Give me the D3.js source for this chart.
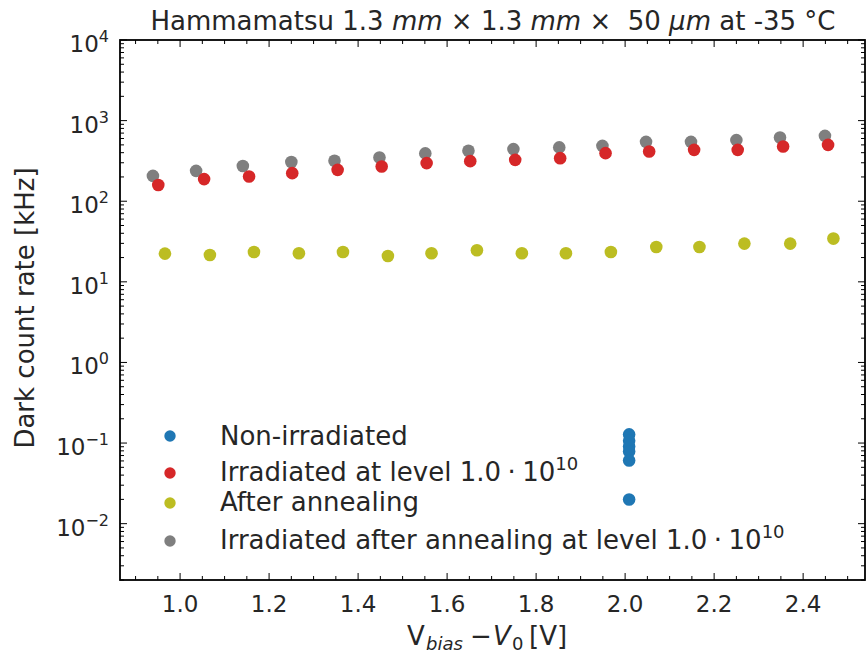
<!DOCTYPE html>
<html><head><meta charset="utf-8">
<script src="https://cdn.jsdelivr.net/npm/d3@7"></script>
<style>body{margin:0;background:#fff}text{font-family:"DejaVu Sans",sans-serif;fill:#262626;white-space:pre}</style>
</head><body><svg id="c" width="867" height="655"></svg>
<script>
const grayX = [0.939,1.036,1.141,1.250,1.347,1.448,1.551,1.648,1.749,1.852,1.949,2.047,2.148,2.250,2.348,2.449];
const grayY = [206,238,274,307,317,349,392,422,443,465,486,545,545,573,618,647];
const redX = [0.951,1.054,1.155,1.252,1.354,1.453,1.554,1.652,1.753,1.854,1.956,2.054,2.155,2.253,2.355,2.456];
const redY = [159,188,203,223,245,270,297,314,326,342,395,414,434,434,478,500];
const yelX = [0.966,1.067,1.166,1.267,1.366,1.467,1.565,1.667,1.768,1.867,1.968,2.070,2.167,2.268,2.371,2.468];
const yelY = [22.4,21.5,23.4,22.6,23.4,20.9,22.6,24.6,22.6,22.6,23.4,27.1,27.1,29.8,29.8,34.4];
const bluX = [2.009,2.009,2.009,2.009,2.009,2.009];
const bluY = [0.128,0.107,0.0905,0.0784,0.0607,0.0199];
const xTicks = [1.0,1.2,1.4,1.6,1.8,2.0,2.2,2.4];
const yTicks = [-2,-1,0,1,2,3,4];
const seriesNames = ["Non-irradiated","Irradiated at level ","After annealing","Irradiated after annealing at level "];
const colors = ["#1f77b4","#d62728","#bcbd22","#7f7f7f"];

const svg = d3.select("#c");
const L=120,R=865,T=40,B=580;
const x = d3.scaleLinear().domain([0.865,2.539]).range([L,R]);
const y = d3.scaleLog().domain([2e-3,1e4]).range([B,T]);

const series = [
  {xs:grayX,ys:grayY,c:colors[3]},
  {xs:redX,ys:redY,c:colors[1]},
  {xs:yelX,ys:yelY,c:colors[2]},
  {xs:bluX,ys:bluY,c:colors[0]}
];
series.forEach(s=>{
  svg.append("g").selectAll("circle").data(s.xs.map((v,i)=>[v,s.ys[i]])).join("circle")
    .attr("cx",d=>x(d[0])).attr("cy",d=>y(d[1])).attr("r",6.3).attr("fill",s.c);
});

const minorX = d3.range(0.9,2.55,0.05).filter(v=>Math.abs(v*5-Math.round(v*5))>1e-6);
const minorY = [];
for(let e=-3;e<4;e++) for(let k=2;k<10;k++){const v=k*Math.pow(10,e); if(v>=2e-3&&v<=1e4) minorY.push(v);}
const tk = svg.append("g").attr("stroke","#000").attr("stroke-width",1);
xTicks.forEach(v=>{tk.append("line").attr("x1",x(v)).attr("x2",x(v)).attr("y1",B).attr("y2",B-7);
  tk.append("line").attr("x1",x(v)).attr("x2",x(v)).attr("y1",T).attr("y2",T+7);});
minorX.forEach(v=>{tk.append("line").attr("x1",x(v)).attr("x2",x(v)).attr("y1",B).attr("y2",B-4);
  tk.append("line").attr("x1",x(v)).attr("x2",x(v)).attr("y1",T).attr("y2",T+4);});
yTicks.forEach(e=>{const p=y(Math.pow(10,e));tk.append("line").attr("x1",L).attr("x2",L+7).attr("y1",p).attr("y2",p);
  tk.append("line").attr("x1",R).attr("x2",R-7).attr("y1",p).attr("y2",p);});
minorY.forEach(v=>{const p=y(v);tk.append("line").attr("x1",L).attr("x2",L+4).attr("y1",p).attr("y2",p);
  tk.append("line").attr("x1",R).attr("x2",R-4).attr("y1",p).attr("y2",p);});

svg.append("rect").attr("x",L).attr("y",T).attr("width",R-L).attr("height",B-T)
  .attr("fill","none").attr("stroke","#000").attr("stroke-width",1.8);

svg.append("g").selectAll("text").data(xTicks).join("text")
  .attr("x",d=>x(d)).attr("y",612).attr("text-anchor","middle").attr("font-size",23).text(d=>d.toFixed(1));
yTicks.forEach(e=>{
  const t=svg.append("text").attr("x",109).attr("y",y(Math.pow(10,e))+12).attr("text-anchor","end").attr("font-size",23);
  t.append("tspan").text("10");
  t.append("tspan").attr("dy",-10).attr("font-size",16).text(e<0?"\u2212"+(-e):String(e));
});

const ti = svg.append("text").attr("x",493).attr("y",30).attr("text-anchor","middle").attr("font-size",26);
ti.append("tspan").text("Hammamatsu 1.3 ");
ti.append("tspan").attr("font-style","italic").text("mm");
ti.append("tspan").text(" × 1.3 ");
ti.append("tspan").attr("font-style","italic").text("mm");
ti.append("tspan").text(" ×\u00a0\u00a050 ");
ti.append("tspan").attr("font-style","italic").text("μm");
ti.append("tspan").text(" at -35 °C");

const xl = svg.append("text").attr("y",645).attr("font-size",26);
xl.append("tspan").attr("x",407).text("V");
xl.append("tspan").attr("x",426).attr("font-style","italic").attr("font-size",18).attr("dy",5).text("bias");
xl.append("tspan").attr("x",470).attr("dy",-5).text("\u2212");
xl.append("tspan").attr("x",493).attr("font-style","italic").text("V");
xl.append("tspan").attr("x",512).attr("font-size",18).attr("dy",5).text("0");
xl.append("tspan").attr("x",529).attr("dy",-5).text("[V]");
svg.append("text").attr("transform","translate(34,308) rotate(-90)").attr("text-anchor","middle")
  .attr("font-size",26).text("Dark count rate [kHz]");

const legY=[436,473,503,541];
const legB=[445,481,511,549];
seriesNames.forEach((n,i)=>{
  svg.append("circle").attr("cx",170).attr("cy",legY[i]).attr("r",5.7).attr("fill",colors[i]);
  const t=svg.append("text").attr("x",220).attr("y",legB[i]).attr("font-size",26).text(n);
  if(i===1||i===3){
    t.append("tspan").text("1.0\u2005\u00b7\u200510");
    t.append("tspan").attr("dy",-11).attr("font-size",18).text("10");
  }
});
</script></body></html>
